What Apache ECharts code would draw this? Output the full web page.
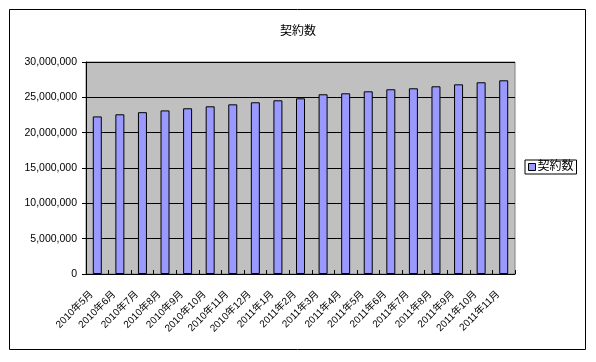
<!DOCTYPE html>
<html><head><meta charset="utf-8">
<script src="https://cdn.jsdelivr.net/npm/echarts@6/dist/echarts.min.js"></script>
<style>html,body{margin:0;padding:0;background:#fff}#c{width:596px;height:362px}</style>
</head><body><div id="c"></div>
<script>
var categories = ["2010年5月","2010年6月","2010年7月","2010年8月","2010年9月","2010年10月","2010年11月","2010年12月","2011年1月","2011年2月","2011年3月","2011年4月","2011年5月","2011年6月","2011年7月","2011年8月","2011年9月","2011年10月","2011年11月"];
var contracts = [22300000,22600000,22900000,23150000,23450000,23730000,24010000,24300000,24580000,24860000,25430000,25570000,25850000,26140000,26280000,26560000,26840000,27130000,27410000];
var yTicks = [0,5000000,10000000,15000000,20000000,25000000,30000000];
var seriesName = "契約数";
var FONT = "'Liberation Sans','Noto Sans CJK JP',sans-serif";
function fmt(v){return String(v).replace(/\B(?=(\d{3})+(?!\d))/g, ",");}
var chart = echarts.init(document.getElementById('c'), null, {renderer:'canvas'});
chart.setOption({
  animation:false,
  backgroundColor:'#fff',
  textStyle:{fontFamily:FONT,color:'#000'},
  title:{text:seriesName,left:'center',top:21,textStyle:{fontSize:12,fontWeight:'normal',color:'#000',fontFamily:FONT}},
  legend:{data:[seriesName],left:525,top:160,orient:'vertical',padding:[1,3,1,3],borderColor:'#000',borderWidth:1,
    icon:'rect',itemWidth:7,itemHeight:7,itemStyle:{borderColor:'#000',borderWidth:1},
    textStyle:{fontSize:12,color:'#000',fontFamily:FONT,padding:[0,0,0,-3]}},
  graphic:[{type:'rect',shape:{x:9.5,y:9.5,width:576,height:340},style:{fill:'none',stroke:'#000',lineWidth:1},silent:true}],
  grid:{left:86,right:81,top:62,bottom:88,show:true,backgroundColor:'#c0c0c0',borderColor:'#808080',borderWidth:1},
  xAxis:{type:'category',data:categories,
    axisLine:{show:true,lineStyle:{color:'#000',width:1}},
    axisTick:{show:true,inside:true,length:4,alignWithLabel:false,lineStyle:{color:'#000'}},
    axisLabel:{interval:0,rotate:45,fontSize:10,color:'#000',fontFamily:FONT,margin:13,padding:[0,8,0,0]}},
  yAxis:{type:'value',min:yTicks[0],max:yTicks[yTicks.length-1],interval:yTicks[1]-yTicks[0],
    axisLine:{show:true,lineStyle:{color:'#000',width:1}},
    axisTick:{show:true,inside:false,length:4,lineStyle:{color:'#000'}},
    splitLine:{show:true,lineStyle:{color:'#000',width:1}},
    axisLabel:{fontSize:10.5,color:'#000',fontFamily:FONT,margin:9,formatter:fmt}},
  series:[{name:seriesName,type:'bar',data:contracts,barWidth:9,
    itemStyle:{color:'#9999ff',borderColor:'#000',borderWidth:1}}]
});
</script></body></html>
